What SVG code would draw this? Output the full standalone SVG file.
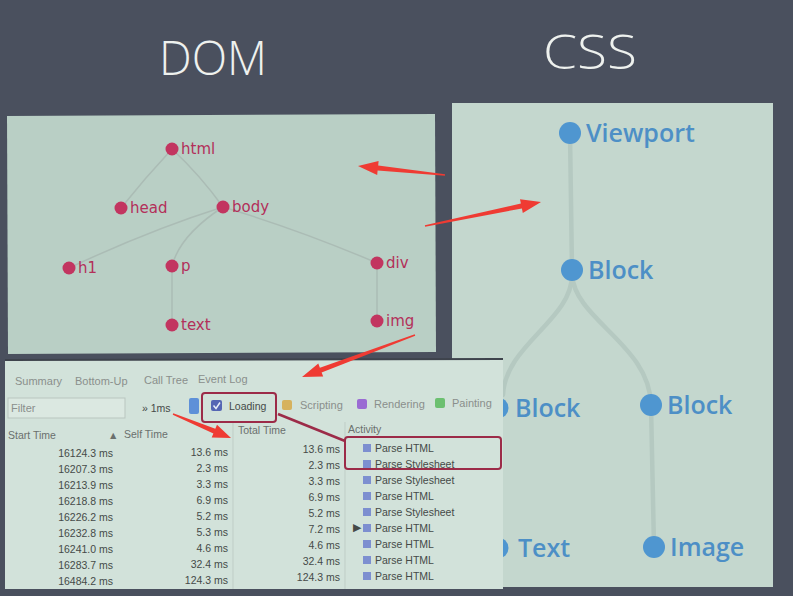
<svg xmlns="http://www.w3.org/2000/svg" width="793" height="596" viewBox="0 0 793 596">
<defs>
<style>
.title{font-family:"Open Sans","DejaVu Sans",sans-serif;font-weight:300;fill:#eef1ee;font-size:48px}
.dlabel{font-family:"DejaVu Sans","Liberation Sans",sans-serif;font-size:15px;fill:#b3305a}
.dnode{fill:#c23560}
.dedge{fill:none;stroke:#abbcb5;stroke-width:1.5}
.clabel{font-family:"Open Sans","DejaVu Sans",sans-serif;font-weight:600;font-size:25px;fill:#4d8fc6}
.cnode{fill:#4f96d0}
.cedge{fill:none;stroke:#b5c9c1;stroke-width:4.5;stroke-linecap:round}
.tab{font-family:"Liberation Sans",Arial,sans-serif;font-size:11px;fill:#8a8f8c}
.tt{font-family:"Liberation Sans",Arial,sans-serif;font-size:10.5px;fill:#454a48}
.hd{font-family:"Liberation Sans",Arial,sans-serif;font-size:10.5px;fill:#6a706d}
.r{text-anchor:end}
.sq{fill:#7d8fd0}
.arrow{fill:#ef3b33}
.hl{fill:none;stroke:#9c2b48;stroke-width:2}
</style>
</defs>
<rect x="0" y="0" width="793" height="596" fill="#4a505e"/>
<text class="title" x="213" y="75" text-anchor="middle" textLength="108" lengthAdjust="spacingAndGlyphs">DOM</text>
<text class="title" x="590" y="69" text-anchor="middle" textLength="94" lengthAdjust="spacingAndGlyphs">CSS</text>

<!-- DOM panel -->
<g id="dom-panel">
<polygon points="7,116 435,114 436,352 8,354" fill="#b9cfc5"/>
</g>
<g id="dom-edges">
<path class="dedge" d="M172,149 Q145,178 121,208"/>
<path class="dedge" d="M172,149 Q200,175 223,207"/>
<path class="dedge" d="M223,207 Q150,230 69,268"/>
<path class="dedge" d="M223,207 Q180,235 172,266"/>
<path class="dedge" d="M223,207 Q300,230 377,263"/>
<path class="dedge" d="M172,266 L172,325"/>
<path class="dedge" d="M377,263 L377,321"/>
</g>
<g id="dom-html"><circle class="dnode" cx="172" cy="149" r="6.5"/><text class="dlabel" x="181" y="154">html</text></g>
<g id="dom-head"><circle class="dnode" cx="121" cy="208" r="6.5"/><text class="dlabel" x="130" y="213">head</text></g>
<g id="dom-body"><circle class="dnode" cx="223" cy="207" r="6.5"/><text class="dlabel" x="232" y="212">body</text></g>
<g id="dom-h1"><circle class="dnode" cx="69" cy="268" r="6.5"/><text class="dlabel" x="78" y="273">h1</text></g>
<g id="dom-p"><circle class="dnode" cx="172" cy="266" r="6.5"/><text class="dlabel" x="181" y="271">p</text></g>
<g id="dom-div"><circle class="dnode" cx="377" cy="263" r="6.5"/><text class="dlabel" x="386" y="268">div</text></g>
<g id="dom-text"><circle class="dnode" cx="172" cy="325" r="6.5"/><text class="dlabel" x="181" y="330">text</text></g>
<g id="dom-img"><circle class="dnode" cx="377" cy="321" r="6.5"/><text class="dlabel" x="386" y="326">img</text></g>

<!-- CSS panel -->
<g id="css-panel">
<rect x="452" y="103" width="321" height="484" fill="#c4d7ce"/>
</g>
<g id="css-edges">
<path class="cedge" d="M570,133 L572,270"/>
<path class="cedge" d="M572,275 C572,320 505,345 503,395"/>
<path class="cedge" d="M572,275 C575,320 650,345 651,405"/>
<path class="cedge" d="M651,405 L654,547"/>
<path class="cedge" d="M500,408 L500,548"/>
</g>
<g id="css-viewport"><circle class="cnode" cx="570" cy="133" r="11"/><text class="clabel" x="586" y="142">Viewport</text></g>
<g id="css-block"><circle class="cnode" cx="572" cy="270" r="11"/><text class="clabel" x="588" y="279">Block</text></g>
<g id="css-block-left"><circle class="cnode" cx="498" cy="408" r="10.5"/><text class="clabel" x="515" y="417">Block</text></g>
<g id="css-block-right"><circle class="cnode" cx="651" cy="405" r="11"/><text class="clabel" x="667" y="414">Block</text></g>
<g id="css-text"><circle class="cnode" cx="498" cy="548" r="10.5"/><text class="clabel" x="518" y="557">Text</text></g>
<g id="css-image"><circle class="cnode" cx="654" cy="547" r="11"/><text class="clabel" x="670" y="556">Image</text></g>

<!-- DevTools panel -->
<g id="devtools">
<rect x="5" y="359" width="498" height="230" fill="#d2e2da"/>
<line x1="5" y1="360" x2="503" y2="359" stroke="#3e434c" stroke-width="2"/>
<text class="tab" x="15" y="385">Summary</text>
<text class="tab" x="75" y="385">Bottom-Up</text>
<text class="tab" x="144" y="384">Call Tree</text>
<text class="tab" x="198" y="383" fill="#555b58">Event Log</text>
<rect x="8" y="398" width="117" height="20" fill="#dbe8e1" stroke="#b9c6bf"/>
<text class="tab" x="11" y="412" fill="#b5c0bb">Filter</text>
<text class="tt" x="142" y="412" fill="#666">» 1ms</text>
<rect x="189" y="398" width="10" height="16" rx="2" fill="#5e90d8"/>
<rect x="211" y="400" width="11" height="11" rx="2" fill="#5566b4"/>
<path d="M213.5,405.5 l2.5,3 l4,-6" fill="none" stroke="#e8eef8" stroke-width="1.5"/>
<text class="tt" x="229" y="410" font-size="11.5">Loading</text>
<rect x="282" y="400" width="10" height="10" rx="2" fill="#d6b25e"/>
<text class="tab" x="300" y="409" fill="#6a706d">Scripting</text>
<rect x="357" y="399" width="10" height="10" rx="2" fill="#9a6bd3"/>
<text class="tab" x="374" y="408" fill="#6a706d">Rendering</text>
<rect x="435" y="398" width="10" height="10" rx="2" fill="#6cc070"/>
<text class="tab" x="452" y="407" fill="#6a706d">Painting</text>
<line x1="233" y1="422" x2="233" y2="589" stroke="#bfcdc6"/>
<line x1="345" y1="422" x2="345" y2="589" stroke="#bfcdc6"/>
<text class="hd" x="8" y="439">Start Time</text>
<text class="hd" x="108" y="439" font-size="8">▲</text>
<text class="hd" x="124" y="438">Self Time</text>
<text class="hd" x="238" y="434">Total Time</text>
<text class="hd" x="348" y="433">Activity</text>
<g id="col-start">
<text class="tt r" x="113" y="457">16124.3 ms</text>
<text class="tt r" x="113" y="473">16207.3 ms</text>
<text class="tt r" x="113" y="489">16213.9 ms</text>
<text class="tt r" x="113" y="505">16218.8 ms</text>
<text class="tt r" x="113" y="521">16226.2 ms</text>
<text class="tt r" x="113" y="537">16232.8 ms</text>
<text class="tt r" x="113" y="553">16241.0 ms</text>
<text class="tt r" x="113" y="569">16283.7 ms</text>
<text class="tt r" x="113" y="585">16484.2 ms</text>
</g>
<g id="col-self">
<text class="tt r" x="228" y="456">13.6 ms</text>
<text class="tt r" x="228" y="472">2.3 ms</text>
<text class="tt r" x="228" y="488">3.3 ms</text>
<text class="tt r" x="228" y="504">6.9 ms</text>
<text class="tt r" x="228" y="520">5.2 ms</text>
<text class="tt r" x="228" y="536">5.3 ms</text>
<text class="tt r" x="228" y="552">4.6 ms</text>
<text class="tt r" x="228" y="568">32.4 ms</text>
<text class="tt r" x="228" y="584">124.3 ms</text>
</g>
<g id="col-total">
<text class="tt r" x="340" y="453">13.6 ms</text>
<text class="tt r" x="340" y="469">2.3 ms</text>
<text class="tt r" x="340" y="485">3.3 ms</text>
<text class="tt r" x="340" y="501">6.9 ms</text>
<text class="tt r" x="340" y="517">5.2 ms</text>
<text class="tt r" x="340" y="533">7.2 ms</text>
<text class="tt r" x="340" y="549">4.6 ms</text>
<text class="tt r" x="340" y="565">32.4 ms</text>
<text class="tt r" x="340" y="581">124.3 ms</text>
</g>
<g id="col-activity">
<rect class="sq" x="363" y="444" width="8" height="8"/><text class="tt" x="375" y="452">Parse HTML</text>
<rect class="sq" x="363" y="460" width="8" height="8"/><text class="tt" x="375" y="468">Parse Stylesheet</text>
<rect class="sq" x="363" y="476" width="8" height="8"/><text class="tt" x="375" y="484">Parse Stylesheet</text>
<rect class="sq" x="363" y="492" width="8" height="8"/><text class="tt" x="375" y="500">Parse HTML</text>
<rect class="sq" x="363" y="508" width="8" height="8"/><text class="tt" x="375" y="516">Parse Stylesheet</text>
<text class="tt" x="353" y="530.5" font-size="5.5">▶</text>
<rect class="sq" x="363" y="524" width="8" height="8"/><text class="tt" x="375" y="532">Parse HTML</text>
<rect class="sq" x="363" y="540" width="8" height="8"/><text class="tt" x="375" y="548">Parse HTML</text>
<rect class="sq" x="363" y="556" width="8" height="8"/><text class="tt" x="375" y="564">Parse HTML</text>
<rect class="sq" x="363" y="572" width="8" height="8"/><text class="tt" x="375" y="580">Parse HTML</text>
</g>
</g>

<!-- highlights and arrows -->
<g id="connectors">
<rect class="hl" x="202" y="393" width="74" height="29" rx="3"/>
<rect class="hl" x="345" y="437" width="156" height="32" rx="3"/>
<line x1="278" y1="414" x2="345" y2="441" stroke="#9c2b48" stroke-width="2.5"/>
<polygon class="arrow" points="445.07,174.3 378.2,165.6 378.6,161.1 358,166 377.2,175 377.6,170.5 444.93,175.7"/>
<polygon class="arrow" points="425.14,226.69 521.9,208.5 522.8,212.9 541,202 520,199.2 520.9,203.6 424.86,225.31"/>
<polygon class="arrow" points="415.24,335.66 321.6,372.4 323.2,376.6 302,377 318.3,363.5 319.9,367.7 414.76,334.34"/>
<polygon class="arrow" points="172.73,414.65 213.4,433.4 211.7,437.6 231,438 217,424.7 215.3,428.8 173.27,413.35"/>
</g>
</svg>
